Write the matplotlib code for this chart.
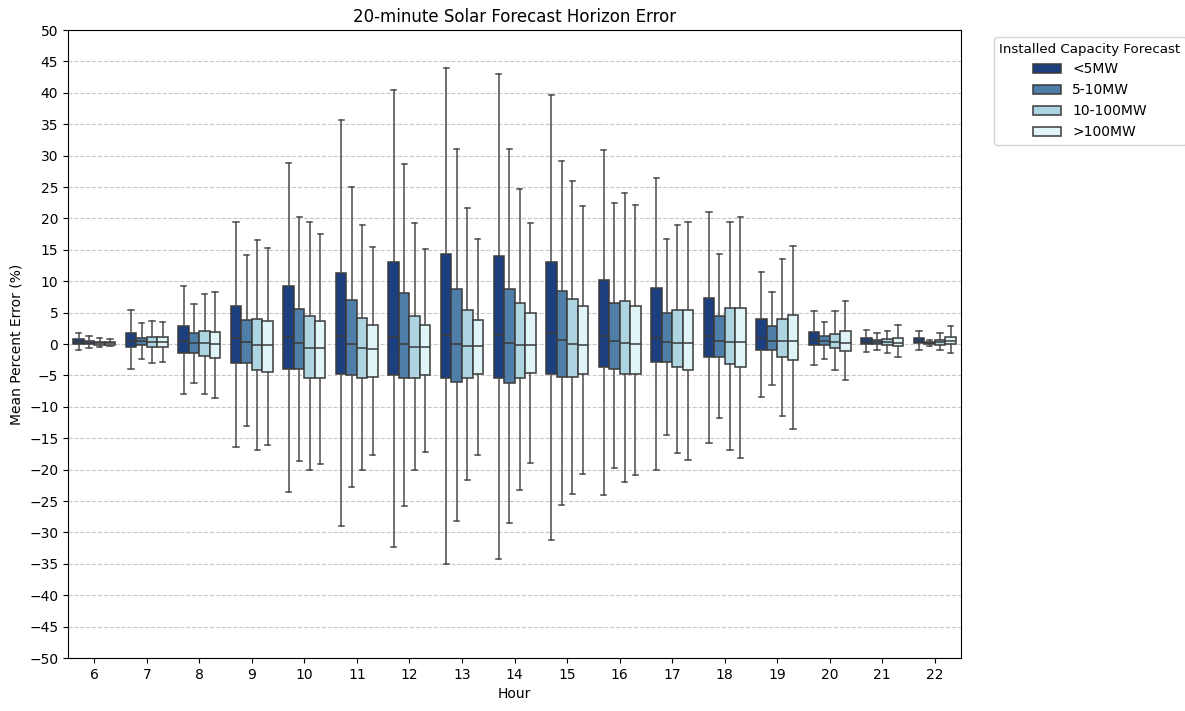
import matplotlib
matplotlib.use("Agg")
import matplotlib.pyplot as plt
import numpy as np
from matplotlib.patches import Patch

hours = [6, 7, 8, 9, 10, 11, 12, 13, 14, 15, 16, 17, 18, 19, 20, 21, 22]
categories = ["<5MW", "5-10MW", "10-100MW", ">100MW"]
colors = ["#1c3f80", "#4f7ea8", "#add4e1", "#e0f5f7"]

# per category: lists over hours
lt5_whislo = [-0.9, -4.0, -7.9, -16.4, -23.6, -28.9, -32.3, -35.1, -34.3, -31.2, -24.1, -20.1, -15.8, -8.5, -3.4, -1.3, -0.9]
lt5_q1     = [0.0, -0.5, -1.5, -3.0, -3.9, -4.7, -5.0, -5.4, -5.4, -4.7, -3.6, -2.8, -2.0, -1.0, -0.1, 0.0, 0.1]
lt5_med    = [0.4, 0.5, 0.5, 1.0, 1.1, 1.2, 1.1, 1.5, 1.5, 1.7, 1.3, 0.9, 1.3, 1.0, 0.7, 0.4, 0.5]
lt5_q3     = [0.8, 1.8, 2.8, 6.0, 9.3, 11.3, 13.1, 14.3, 14.0, 13.0, 10.2, 8.9, 7.3, 4.0, 1.9, 0.9, 1.0]
lt5_whishi = [1.8, 5.4, 9.3, 19.5, 28.9, 35.6, 40.5, 43.9, 43.0, 39.7, 30.9, 26.4, 21.1, 11.5, 5.2, 2.3, 2.1]

m5_10_whislo = [-0.6, -2.4, -6.2, -13.0, -18.7, -22.8, -25.8, -28.2, -28.5, -25.7, -19.7, -14.5, -11.8, -6.6, -2.4, -0.9, -0.3]
m5_10_q1     = [0.0, -0.1, -1.5, -3.0, -4.0, -4.9, -5.4, -6.0, -6.2, -5.2, -3.9, -2.8, -2.1, -1.0, -0.1, 0.0, 0.0]
m5_10_med    = [0.2, 0.5, 0.1, 0.3, 0.2, 0.0, 0.0, 0.0, 0.1, 0.6, 0.5, 0.3, 0.5, 0.5, 0.5, 0.3, 0.2]
m5_10_q3     = [0.5, 1.0, 1.7, 3.9, 5.6, 7.0, 8.1, 8.7, 8.7, 8.4, 6.6, 5.0, 4.5, 2.8, 1.3, 0.7, 0.4]
m5_10_whishi = [1.3, 3.3, 6.3, 14.2, 20.3, 25.0, 28.6, 31.1, 31.1, 29.1, 22.4, 16.7, 14.3, 8.3, 3.5, 1.8, 0.7]

m10_100_whislo = [-0.5, -3.1, -7.9, -16.8, -20.1, -20.0, -20.1, -21.6, -23.2, -23.9, -21.9, -17.4, -16.9, -11.5, -4.2, -1.5, -0.9]
m10_100_q1     = [-0.1, -0.5, -1.9, -4.2, -5.4, -5.4, -5.4, -5.4, -5.4, -5.2, -4.7, -3.7, -3.2, -2.1, -0.7, -0.1, -0.1]
m10_100_med    = [0.2, 0.3, 0.1, -0.1, -0.6, -0.7, -0.5, -0.3, -0.2, 0.0, 0.1, 0.1, 0.3, 0.5, 0.3, 0.3, 0.3]
m10_100_q3     = [0.4, 1.1, 2.1, 4.0, 4.5, 4.2, 4.4, 5.4, 6.6, 7.2, 6.8, 5.4, 5.8, 4.0, 1.6, 0.8, 0.7]
m10_100_whishi = [0.9, 3.6, 7.9, 16.6, 19.5, 18.9, 19.2, 21.6, 24.7, 26.0, 24.1, 19.0, 19.5, 13.5, 5.2, 2.1, 1.8]

gt100_whislo = [-0.3, -2.9, -8.6, -16.1, -19.1, -17.7, -17.2, -17.7, -18.9, -20.7, -20.8, -18.4, -18.2, -13.5, -5.8, -2.1, -1.5]
gt100_q1     = [-0.1, -0.5, -2.3, -4.4, -5.4, -5.2, -5.0, -4.7, -4.6, -4.7, -4.7, -4.2, -3.7, -2.6, -1.1, -0.3, 0.0]
gt100_med    = [0.1, 0.3, 0.0, -0.1, -0.6, -0.8, -0.5, -0.3, -0.2, -0.1, 0.0, 0.1, 0.3, 0.5, 0.2, 0.2, 0.5]
gt100_q3     = [0.3, 1.1, 1.9, 3.6, 3.7, 3.1, 3.1, 3.9, 4.9, 6.0, 6.0, 5.4, 5.8, 4.7, 2.1, 1.0, 1.1]
gt100_whishi = [0.8, 3.5, 8.3, 15.3, 17.5, 15.4, 15.2, 16.7, 19.2, 21.9, 22.1, 19.5, 20.3, 15.6, 6.8, 3.0, 2.8]

series = [
    (lt5_whislo, lt5_q1, lt5_med, lt5_q3, lt5_whishi),
    (m5_10_whislo, m5_10_q1, m5_10_med, m5_10_q3, m5_10_whishi),
    (m10_100_whislo, m10_100_q1, m10_100_med, m10_100_q3, m10_100_whishi),
    (gt100_whislo, gt100_q1, gt100_med, gt100_q3, gt100_whishi),
]

fig = plt.figure(figsize=(11.85, 7.11), dpi=100)
ax = fig.add_axes([0.0574, 0.0745, 0.7536, 0.8833])

ax.yaxis.grid(True, linestyle="--", color="#c8c8c8", linewidth=0.8)
ax.set_axisbelow(True)

width = 0.2
offsets = [-0.3, -0.1, 0.1, 0.3]
linec = "#3a3a3a"
whc = "#4a4a4a"
for ci, (wl, q1, med, q3, wh) in enumerate(series):
    stats = []
    for i in range(len(hours)):
        stats.append(dict(whislo=wl[i], q1=q1[i], med=med[i], q3=q3[i], whishi=wh[i], fliers=[]))
    pos = [i + offsets[ci] for i in range(len(hours))]
    ax.bxp(stats, positions=pos, widths=width, patch_artist=True, showfliers=False,
           manage_ticks=False,
           boxprops=dict(facecolor=colors[ci], edgecolor=linec, linewidth=1.1),
           medianprops=dict(color=linec, linewidth=1.1),
           whiskerprops=dict(color=whc, linewidth=1.1),
           capprops=dict(color=whc, linewidth=1.1),
           capwidths=0.1)

ax.set_xlim(-0.5, len(hours) - 0.5)
ax.set_xticks(range(len(hours)))
ax.set_xticklabels([str(h) for h in hours])
ax.set_ylim(-50, 50)
ax.set_yticks(np.arange(-50, 51, 5))
ax.set_xlabel("Hour", fontsize=10)
ax.set_ylabel("Mean Percent Error (%)", fontsize=10)
ax.set_title("20-minute Solar Forecast Horizon Error", fontsize=12)

handles = [Patch(facecolor=colors[i], edgecolor=linec, linewidth=1.1, label=categories[i]) for i in range(4)]
ax.legend(handles=handles, title="Installed Capacity Forecast", loc="upper left",
          bbox_to_anchor=(1.029, 1.0), fontsize=10, title_fontsize=9.6)

fig.savefig("out.png", dpi=100)
